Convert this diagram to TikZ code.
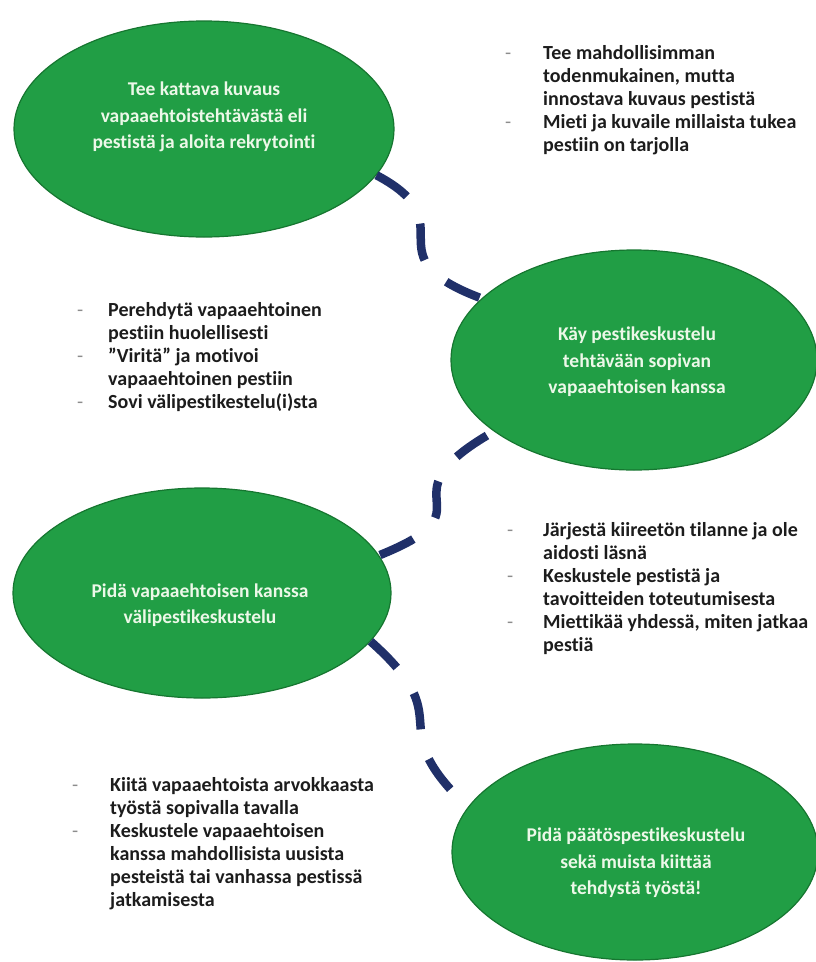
\documentclass[tikz,border=0pt]{standalone}
\usepackage{fontspec}
\setmainfont{Carlito}[Ligatures=NoCommon]
\usetikzlibrary{shapes.geometric}
\definecolor{egreen}{RGB}{33,158,69}
\definecolor{eedge}{RGB}{22,118,48}
\definecolor{navy}{RGB}{32,48,105}
\definecolor{etext}{RGB}{236,248,232}
\definecolor{ltext}{RGB}{28,28,28}
\definecolor{dashgray}{RGB}{140,140,140}
\newcommand{\lbul}[1]{\makebox[#1][l]{\color{dashgray}\mdseries -}}
\newcommand{\lind}[1]{\hspace*{#1}}
\begin{document}
\begin{tikzpicture}[x=1bp,y=-1bp,
 bubble/.style={ellipse, draw=eedge, line width=1.2bp, fill=egreen, inner sep=0pt},
 btext/.style={text=etext, font=\bfseries\fontsize{19.5bp}{26.5bp}\selectfont, align=center, inner sep=0pt},
 listtext/.style={anchor=north west, inner sep=0pt, text=ltext, font=\bfseries\fontsize{20bp}{23bp}\selectfont},
 link/.style={draw=navy, line width=8.5bp, dash pattern=on 37bp off 31bp}
]
\useasboundingbox (0,0) rectangle (816,962);

\node[bubble, minimum width=380bp, minimum height=216bp] (e1) at (204,129) {};
\node[bubble, minimum width=366bp, minimum height=220bp] (e2) at (634,360) {};
\node[bubble, minimum width=378bp, minimum height=210bp] (e3) at (202,593) {};
\node[bubble, minimum width=366bp, minimum height=216bp] (e4) at (635,852) {};

\node[btext] (t1) at (204,117) {Tee kattava kuvaus\\vapaaehtoistehtävästä eli\\pestistä ja aloita rekrytointi};
\node[btext] (t2) at (637,362) {Käy pestikeskustelu\\tehtävään sopivan\\vapaaehtoisen kanssa};
\node[btext] (t3) at (200,605) {Pidä vapaaehtoisen kanssa\\välipestikeskustelu};
\node[btext] (t4) at (636,863) {Pidä päätöspestikeskustelu\\sekä muista kiittää\\tehdystä työstä!};

\node[listtext] (l1) at (505,43) {\begin{tabular}{@{}l@{}}
\lbul{38bp}Tee mahdollisimman\\
\lind{38bp}todenmukainen, mutta\\
\lind{38bp}innostava kuvaus pestistä\\
\lbul{38bp}Mieti ja kuvaile millaista tukea\\
\lind{38bp}pestiin on tarjolla
\end{tabular}};

\node[listtext] (l2) at (77,300) {\begin{tabular}{@{}l@{}}
\lbul{31bp}Perehdytä vapaaehtoinen\\
\lind{31bp}pestiin huolellisesti\\
\lbul{31bp}”Viritä” ja motivoi\\
\lind{31bp}vapaaehtoinen pestiin\\
\lbul{31bp}Sovi välipestikestelu(i)sta
\end{tabular}};

\node[listtext] (l3) at (507,520) {\begin{tabular}{@{}l@{}}
\lbul{36bp}Järjestä kiireetön tilanne ja ole\\
\lind{36bp}aidosti läsnä\\
\lbul{36bp}Keskustele pestistä ja\\
\lind{36bp}tavoitteiden toteutumisesta\\
\lbul{36bp}Miettikää yhdessä, miten jatkaa\\
\lind{36bp}pestiä
\end{tabular}};

\node[listtext] (l4) at (72,775) {\begin{tabular}{@{}l@{}}
\lbul{38bp}Kiitä vapaaehtoista arvokkaasta\\
\lind{38bp}työstä sopivalla tavalla\\
\lbul{38bp}Keskustele vapaaehtoisen\\
\lind{38bp}kanssa mahdollisista uusista\\
\lind{38bp}pesteistä tai vanhassa pestissä\\
\lind{38bp}jatkamisesta
\end{tabular}};

\draw[link] (e1.-15) .. controls +(93,49) and +(-115,-43) .. (e2.158);
\draw[link, shorten <=8bp] (e2.207) .. controls +(-114,68) and +(117,-47) .. (e3.12);
\draw[link, shorten >=10bp] (e3.-16) .. controls +(90,80) and +(-85,-85) .. (e4.165);
\end{tikzpicture}
\end{document}
